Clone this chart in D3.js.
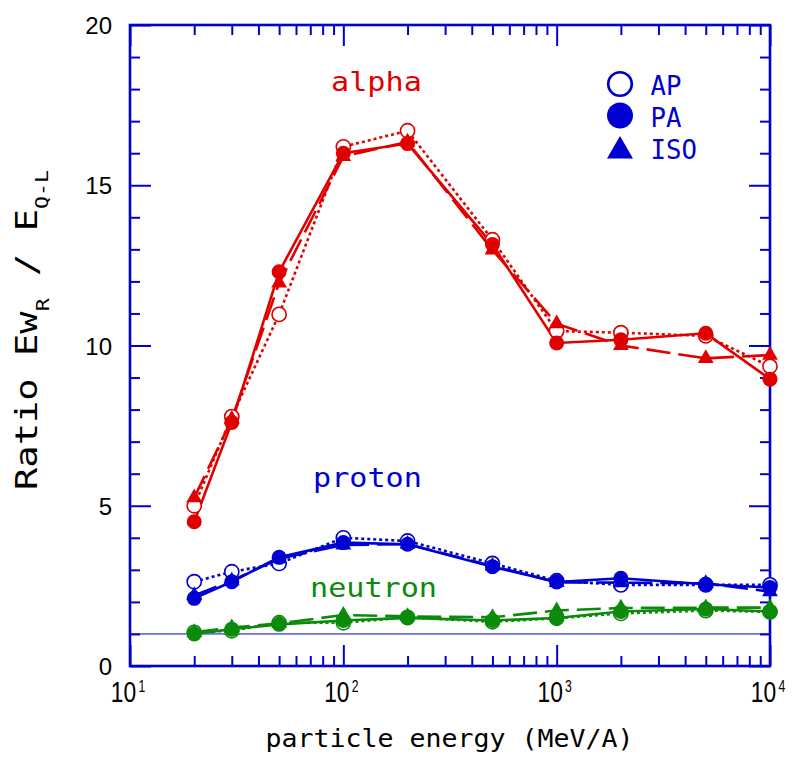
<!DOCTYPE html>
<html>
<head>
<meta charset="utf-8">
<script src="https://cdn.jsdelivr.net/npm/d3@7"></script>
<style>
  html, body { margin: 0; padding: 0; background: #ffffff; }
  svg { display: block; }
</style>
</head>
<body>
<svg id="chart" width="794" height="760"></svg>
<script>
// ---------------- data ----------------
const energies = [20, 30, 50, 100, 200, 500, 1000, 2000, 5000, 10000];

const alphaAP  = [5.00, 7.78, 10.97, 16.20, 16.70, 13.30, 10.45, 10.40, 10.30, 9.35];
const alphaPA  = [4.50, 7.60, 12.30, 16.00, 16.30, 13.15, 10.08, 10.18, 10.38, 8.95];
const alphaISO = [5.25, 7.70, 11.95, 15.90, 16.35, 12.98, 10.68, 10.00, 9.60, 9.70];

const protonAP  = [2.63, 2.94, 3.20, 4.00, 3.90, 3.20, 2.66, 2.53, 2.53, 2.53];
const protonPA  = [2.11, 2.63, 3.39, 3.85, 3.80, 3.10, 2.62, 2.74, 2.55, 2.45];
const protonISO = [2.20, 2.66, 3.35, 3.78, 3.80, 3.12, 2.61, 2.60, 2.58, 2.32];

const neutronAP  = [1.05, 1.10, 1.35, 1.35, 1.52, 1.38, 1.49, 1.64, 1.73, 1.69];
const neutronPA  = [1.00, 1.15, 1.30, 1.42, 1.50, 1.42, 1.50, 1.70, 1.78, 1.70];
const neutronISO = [1.05, 1.20, 1.33, 1.59, 1.55, 1.52, 1.73, 1.81, 1.82, 1.82];

const xDecades = [10, 100, 1000, 10000];
const xDecadeExp = ["1", "2", "3", "4"];
const yMajor = [0, 5, 10, 15, 20];
const referenceValue = 1;

const legendLabels = ["AP", "PA", "ISO"];
const speciesLabels = ["alpha", "proton", "neutron"];
const xTitle = "particle energy (MeV/A)";

// ---------------- styling ----------------
const RED = "#e00000", BLUE = "#0000d2", GREEN = "#0b8a0b";
const MONO = "'DejaVu Sans Mono', monospace";
const SANS = "'Liberation Sans', Arial, sans-serif";

const species = [
  { name: speciesLabels[2], color: GREEN, AP: neutronAP, PA: neutronPA, ISO: neutronISO },
  { name: speciesLabels[1], color: BLUE,  AP: protonAP,  PA: protonPA,  ISO: protonISO },
  { name: speciesLabels[0], color: RED,   AP: alphaAP,   PA: alphaPA,   ISO: alphaISO }
];

const svg = d3.select("#chart");
const L = 130, R = 770, T = 25, B = 666;

const x = d3.scaleLog().domain([10, 10000]).range([L, R]);
const y = d3.scaleLinear().domain([0, 20]).range([B, T]);

const minorX = [];
for (let d = 10; d < 10000; d *= 10) for (let k = 2; k <= 9; k++) minorX.push(d * k);
const minorY = d3.range(0, 21).filter(v => v % 5 !== 0);

// text helper: places text at (px,py), optional rotation, horizontal scale either fixed or fit to width
function placeText(opts) {
  const g = svg.append("g").attr("transform",
    `translate(${opts.x},${opts.y})` + (opts.rotate ? ` rotate(${opts.rotate})` : ""));
  const t = g.append("text").attr("x", 0).attr("y", 0)
    .attr("font-family", opts.family).attr("font-size", opts.size)
    .attr("fill", opts.fill || "#000")
    .attr("text-anchor", opts.anchor || "start");
  opts.build(t);
  let sx = opts.scale || 1;
  const sy = opts.scaleY || 1;
  if (opts.width) {
    const w = t.node().getComputedTextLength();
    if (w > 0) sx = opts.width / w;
  }
  t.attr("transform", `scale(${sx},${sy})`);
  return t;
}

const axisColor = BLUE;
function styleAxis(g) {
  g.select(".domain").remove();
  g.selectAll(".tick line").attr("stroke", axisColor).attr("stroke-width", 2);
}

// bottom axis (ticks inward)
svg.append("g").attr("transform", `translate(0,${B})`)
  .call(d3.axisBottom(x).tickValues(xDecades).tickSizeInner(-21).tickSizeOuter(0).tickFormat(""))
  .call(styleAxis);
svg.append("g").attr("transform", `translate(0,${B})`)
  .call(d3.axisBottom(x).tickValues(minorX).tickSizeInner(-10).tickSizeOuter(0).tickFormat(""))
  .call(styleAxis);
// top axis
svg.append("g").attr("transform", `translate(0,${T})`)
  .call(d3.axisTop(x).tickValues(xDecades).tickSizeInner(-21).tickSizeOuter(0).tickFormat(""))
  .call(styleAxis);
svg.append("g").attr("transform", `translate(0,${T})`)
  .call(d3.axisTop(x).tickValues(minorX).tickSizeInner(-10).tickSizeOuter(0).tickFormat(""))
  .call(styleAxis);
// left axis with labels
const leftMajor = svg.append("g").attr("transform", `translate(${L},0)`)
  .call(d3.axisLeft(y).tickValues(yMajor).tickSizeInner(-21).tickSizeOuter(0).tickPadding(18).tickFormat(d3.format("d")))
  .call(styleAxis);
leftMajor.selectAll(".tick text")
  .attr("fill", "#000").attr("font-family", SANS).attr("font-size", 24).attr("dy", "0.36em");
svg.append("g").attr("transform", `translate(${L},0)`)
  .call(d3.axisLeft(y).tickValues(minorY).tickSizeInner(-10).tickSizeOuter(0).tickFormat(""))
  .call(styleAxis);
// right axis
svg.append("g").attr("transform", `translate(${R},0)`)
  .call(d3.axisRight(y).tickValues(yMajor).tickSizeInner(-21).tickSizeOuter(0).tickFormat(""))
  .call(styleAxis);
svg.append("g").attr("transform", `translate(${R},0)`)
  .call(d3.axisRight(y).tickValues(minorY).tickSizeInner(-10).tickSizeOuter(0).tickFormat(""))
  .call(styleAxis);

// frame
svg.append("rect").attr("x", L).attr("y", T).attr("width", R - L).attr("height", B - T)
  .attr("fill", "none").attr("stroke", axisColor).attr("stroke-width", 2.6);

// x tick labels 10^n
xDecades.forEach((d, i) => {
  placeText({
    x: x(d) - 2, y: 702, family: SANS, size: 30, anchor: "middle", scale: 0.76,
    build: t => {
      t.append("tspan").text("10");
      t.append("tspan").attr("font-size", 16).attr("dx", 3).attr("dy", -10).text(xDecadeExp[i]);
    }
  });
});

// x title
placeText({
  x: 265.5, y: 747, family: MONO, size: 24, width: 368,
  build: t => t.text(xTitle)
});

// y title (rotated)
placeText({
  x: 37, y: 490, rotate: -90, family: MONO, size: 31, width: 320,
  build: t => {
    t.append("tspan").text("Ratio Ew");
    t.append("tspan").attr("font-size", 18).attr("dy", 12).text("R");
    t.append("tspan").attr("dy", -12).text(" / E");
    t.append("tspan").attr("font-size", 18).attr("dy", 11).text("Q-L");
  }
});

// reference line at 1
svg.append("line").attr("x1", L).attr("x2", R).attr("y1", y(referenceValue)).attr("y2", y(referenceValue))
  .attr("stroke", BLUE).attr("stroke-width", 1);

// ---------------- series ----------------
const styles = {
  AP:  { dash: "3,3" },
  PA:  { dash: null },
  ISO: { dash: "24,8" }
};
const line = d3.line().x(d => x(d[0])).y(d => y(d[1]));
const plot = svg.append("g");

species.forEach(sp => {
  ["ISO", "PA", "AP"].forEach(key => {
    const pts = energies.map((e, i) => [e, sp[key][i]]);
    plot.append("path").datum(pts).attr("d", line)
      .attr("fill", "none").attr("stroke", sp.color).attr("stroke-width", 2.6)
      .attr("stroke-dasharray", styles[key].dash);
  });
  const tri = d3.symbol(d3.symbolTriangle, 108);
  ["AP", "ISO", "PA"].forEach(key => {
    const pts = energies.map((e, i) => [e, sp[key][i]]);
    const g = plot.append("g");
    if (key === "AP") {
      g.selectAll("circle").data(pts).join("circle")
        .attr("cx", d => x(d[0])).attr("cy", d => y(d[1])).attr("r", 7.1)
        .attr("fill", "#fff").attr("stroke", sp.color).attr("stroke-width", 1.6);
    } else if (key === "PA") {
      g.selectAll("circle").data(pts).join("circle")
        .attr("cx", d => x(d[0])).attr("cy", d => y(d[1])).attr("r", 7.5)
        .attr("fill", sp.color);
    } else {
      g.selectAll("path").data(pts).join("path")
        .attr("d", tri).attr("transform", d => `translate(${x(d[0])},${y(d[1])})`)
        .attr("fill", sp.color);
    }
  });
});

// species labels
const labelSpec = [
  { t: speciesLabels[0], x: 331, y: 91,  len: 91,  c: RED },
  { t: speciesLabels[1], x: 313, y: 487, len: 109, c: BLUE },
  { t: speciesLabels[2], x: 310, y: 597, len: 127, c: GREEN }
];
labelSpec.forEach(s => {
  placeText({
    x: s.x, y: s.y, family: MONO, size: 27, width: s.len, fill: s.c,
    build: t => t.text(s.t)
  });
});

// legend
const lg = svg.append("g");
lg.append("circle").attr("cx", 620).attr("cy", 84).attr("r", 11.8)
  .attr("fill", "#fff").attr("stroke", BLUE).attr("stroke-width", 2.6);
lg.append("circle").attr("cx", 620).attr("cy", 115.5).attr("r", 13).attr("fill", BLUE);
lg.append("path").attr("d", d3.symbol(d3.symbolTriangle, 293)).attr("transform", "translate(620,151)")
  .attr("fill", BLUE);
const legY = [95, 126.5, 159];
legendLabels.forEach((t, i) => {
  placeText({
    x: 650.5, y: legY[i], family: MONO, size: 26.5, scale: 0.97, fill: BLUE,
    build: s => s.text(t)
  });
});
</script>
</body>
</html>
